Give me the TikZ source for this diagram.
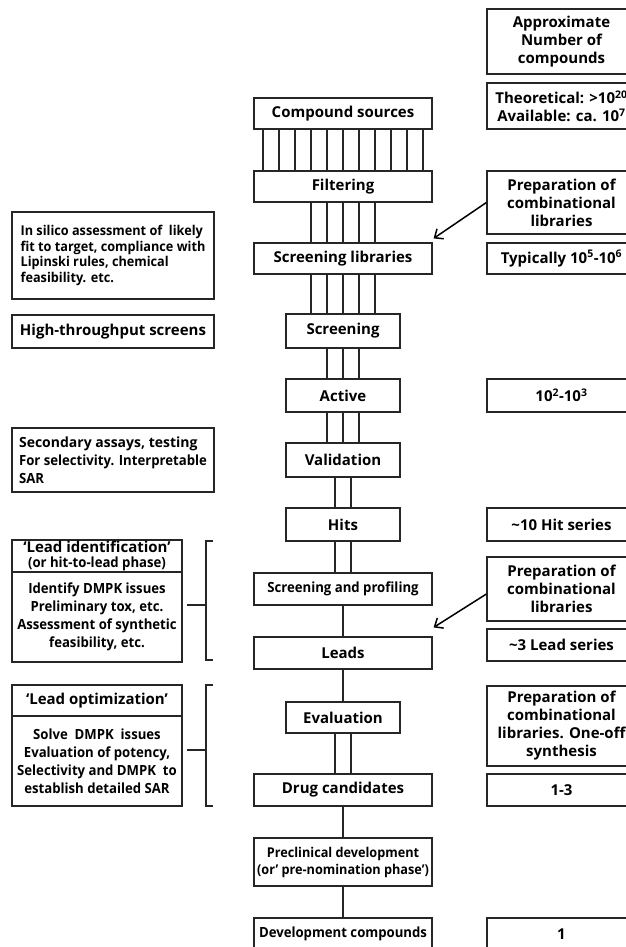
\documentclass[tikz,border=0pt]{standalone}
\usepackage{fontspec}
\setmainfont{Open Sans}
\newfontfamily\narrowface[FakeStretch=0.94]{Open Sans}
\usetikzlibrary{arrows.meta}
\definecolor{ink}{HTML}{262626}
% text faces: a wide bold face and a tighter one
\newcommand\widetxt{\bfseries\fontsize{15}{18}\selectfont}
\newcommand\condtxt{\narrowface\bfseries\fontsize{14}{18}\selectfont}
\begin{document}
\begin{tikzpicture}[x=1pt,y=-1pt,
  box/.style={draw=ink, line width=1.2pt, fill=white, inner sep=0pt,
    align=center, font=\widetxt},
  wbox/.style={box, minimum width=178pt},
  nbox/.style={box, minimum width=114pt},
  rbox/.style={box, minimum width=149pt},
  lbox/.style={box, minimum width=202pt, align=left},
  hbox/.style={box, minimum width=170pt},
  conn/.style={draw=ink, line width=1.2pt},
  arr/.style={draw=black, line width=1.5pt, -{Straight Barb[length=7pt,width=12pt,line width=1.5pt]}}]
\useasboundingbox (0,0) rectangle (625,947);

% main flow
\node[wbox, minimum height=31pt] (cs) at (343,113.5) {Compound sources};
\node[wbox, minimum height=31pt] (filt) at (343,186.5) {Filtering};
\node[wbox, minimum height=31pt] (slib) at (343,258.5) {Screening libraries};
\node[nbox, minimum height=34pt] (scr) at (343,331) {Screening};
\node[nbox, minimum height=33pt] (act) at (343,395.5) {Active};
\node[nbox, minimum height=34pt] (val) at (343,460) {Validation};
\node[nbox, minimum height=33pt] (hits) at (343,524.5) {Hits};
\node[wbox, minimum height=32pt, font=\condtxt] (sp) at (343,589) {Screening and profiling};
\node[wbox, minimum height=32pt] (leads) at (343,653) {Leads};
\node[nbox, minimum height=31pt] (eval) at (343,717.5) {Evaluation};
\node[wbox, minimum height=32pt] (dc) at (343,790) {Drug candidates};
\node[wbox, minimum height=48pt, font=\narrowface\bfseries\fontsize{13.5}{17}\selectfont] (pre) at (343,862)
  {Preclinical development\\(or’ pre-nomination phase’)};
\node[wbox, minimum height=32pt, font=\condtxt] (dev) at (343,934) {Development compounds};

% bundles of parallel connectors
\foreach \d in {-80,-64,...,80}
  \draw[conn] ([xshift=\d pt]cs.south) -- ([xshift=\d pt]filt.north);
\foreach \d in {-32,-16,...,32} {
  \draw[conn] ([xshift=\d pt]filt.south) -- ([xshift=\d pt]slib.north);
  \draw[conn] ([xshift=\d pt]slib.south) -- ([xshift=\d pt]scr.north);
}
\foreach \d in {-16,0,16} {
  \draw[conn] ([xshift=\d pt]scr.south) -- ([xshift=\d pt]act.north);
  \draw[conn] ([xshift=\d pt]act.south) -- ([xshift=\d pt]val.north);
}
\foreach \d in {-8,8} {
  \draw[conn] ([xshift=\d pt]val.south) -- ([xshift=\d pt]hits.north);
  \draw[conn] ([xshift=\d pt]hits.south) -- ([xshift=\d pt]sp.north);
  \draw[conn] ([xshift=\d pt]eval.south) -- ([xshift=\d pt]dc.north);
}
\draw[conn] (sp) -- (leads);
\draw[conn] (leads) -- (eval);
\draw[conn] (dc) -- (pre);
\draw[conn] (pre) -- (dev);

% compound counts
\node[rbox, minimum height=65pt] (approx) at (561.5,41.5) {Approximate\\Number of\\compounds};
\node[rbox, minimum height=46pt] (theo) at (561.5,106)
  {Theoretical: >10\textsuperscript{20}\\Available: ca. 10\textsuperscript{7}};
\node[rbox, minimum height=63pt] (prep1) at (561.5,202.5) {Preparation of\\combinational\\libraries};
\node[rbox, minimum height=31pt] (typ) at (561.5,258.5) {Typically 10\textsuperscript{5}-10\textsuperscript{6}};
\node[rbox, minimum height=33pt] (cact) at (561.5,395.5) {10\textsuperscript{2}-10\textsuperscript{3}};
\node[rbox, minimum height=33pt] (chit) at (561.5,524.5) {\textasciitilde10 Hit series};
\node[rbox, minimum height=64pt] (prep2) at (561.5,589) {Preparation of\\combinational\\libraries};
\node[rbox, minimum height=32pt] (clead) at (561.5,645) {\textasciitilde3 Lead series};
\node[rbox, minimum height=80pt] (prep3) at (561.5,726)
  {Preparation of\\combinational\\libraries. One-off\\synthesis};
\node[rbox, minimum height=32pt] (ccand) at (561.5,790) {1-3};
\node[rbox, minimum height=32pt] (cdev) at (561.5,934) {1};

\draw[arr] (prep1.west) -- ([xshift=1pt,yshift=4pt]slib.north east);
\draw[arr] ([yshift=-5pt]prep2.west) -- ([xshift=1pt,yshift=9pt]leads.north east);

% activities
\node[lbox, minimum height=87pt, font=\narrowface\bfseries\fontsize{13.5}{15.7}\selectfont] (silico) at (113,255.5)
  {In silico assessment of\ \ likely\\fit to target, compliance with\\Lipinski rules, chemical\\feasibility. etc.};
\node[lbox, minimum height=33pt] (hts) at (113,331.5) {High-throughput screens};
\node[lbox, minimum height=64pt, font=\condtxt] (sec) at (113,460)
  {{\normalfont\bfseries\fontsize{14}{18}\selectfont Secondary assays, testing}\\For selectivity. Interpretable\\SAR};

% phases
\node[hbox, minimum height=32pt, font=\narrowface\bfseries\fontsize{14}{14.5}\selectfont] (lidh) at (97,556)
  {{\normalfont\bfseries\fontsize{15}{14.5}\selectfont ‘Lead identification’}\\
   {\narrowface\bfseries\fontsize{14}{14.5}\selectfont (or hit-to-lead phase)}};
\node[hbox, minimum height=90pt, font=\condtxt] (lidb) at (97,617)
  {Identify DMPK issues\\Preliminary tox, etc.\\Assessment of synthetic\\feasibility, etc.};
\node[hbox, minimum height=31pt] (loph) at (97,700.5) {‘Lead optimization’};
\node[hbox, minimum height=90pt, font=\condtxt] (lopb) at (97,761)
  {Solve\ \ DMPK\ \ issues\\Evaluation of potency,\\Selectivity and DMPK\ \ to\\establish detailed SAR};

% brackets
\coordinate (b1t) at (206,541);
\coordinate (b1m) at (206,605);
\coordinate (b1b) at (206,660);
\coordinate (b2t) at (206,685);
\coordinate (b2m) at (206,750);
\coordinate (b2b) at (206,806);
\draw[conn] ([xshift=7pt]b1t) -- (b1t) -- (b1b) -- ([xshift=7pt]b1b);
\draw[conn] ([xshift=4pt]lidb.east |- b1m) -- (b1m);
\draw[conn] ([xshift=7pt]b2t) -- (b2t) -- (b2b) -- ([xshift=7pt]b2b);
\draw[conn] ([xshift=4pt]lopb.east |- b2m) -- (b2m);
\end{tikzpicture}
\end{document}
